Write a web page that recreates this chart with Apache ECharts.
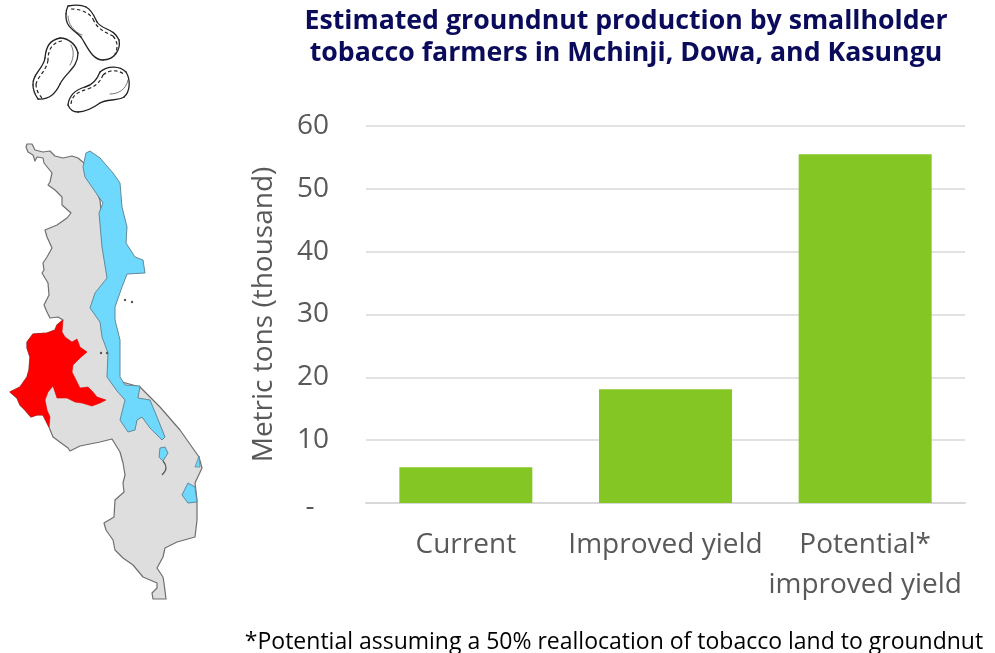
<!DOCTYPE html>
<html>
<head>
<meta charset="utf-8">
<style>html,body{margin:0;padding:0;background:#fff}#chart{width:995px;height:653px}</style>
<script src="https://cdn.jsdelivr.net/npm/echarts@6/dist/echarts.min.js"></script>
</head>
<body>
<div id="chart"></div>
<script>
// Chart data
const categories = ['Current', 'Improved yield', 'Potential*\nimproved yield'];
const production = [5.7, 18.1, 55.5];
const axisTicks = [0, 10, 20, 30, 40, 50, 60];
const chartTitle = 'Estimated groundnut production by smallholder\ntobacco farmers in Mchinji, Dowa, and Kasungu';
const axisTitle = 'Metric tons (thousand)';
const footnote = '*Potential assuming a 50% reallocation of tobacco land to groundnut';

// Outline of Malawi and the highlighted districts, in page pixels
const countryOutline = [[27,144],[32,144],[35,150],[43,152],[50,151],[55,156],[63,158],[72,156],[78,158],[84,163],[100,200],[110,300],[115,380],[140,387],[160,407],[180,430],[199,457],[202,468],[195,483],[197,500],[197,520],[195,537],[177,542],[165,548],[163,557],[157,568],[163,577],[164,583],[166,599],[153,599],[152,593],[157,588],[157,583],[143,577],[133,565],[123,558],[115,550],[113,540],[106,530],[104,523],[114,517],[115,500],[124,492],[123,483],[125,475],[123,463],[120,452],[112,439],[100,442],[80,446],[70,451],[68,448],[53,437],[49,427],[43,415],[37,415],[31,417],[25,410],[20,405],[17,398],[10,392],[20,387],[27,377],[29,370],[30,357],[27,348],[27,342],[33,334],[47,333],[55,330],[57,325],[63,320],[58,317],[50,318],[47,312],[44,305],[49,295],[48,283],[42,273],[44,270],[43,263],[47,257],[52,248],[47,237],[45,230],[57,225],[67,218],[71,213],[62,205],[62,197],[55,190],[48,185],[50,182],[52,173],[44,163],[43,158],[37,157],[35,161],[33,155],[28,152],[26,147]];
const districts = [[63,320],[62,332],[65,337],[72,342],[77,339],[80,347],[87,352],[80,358],[73,365],[72,372],[77,382],[80,388],[88,387],[93,392],[97,397],[106,400],[100,403],[92,406],[82,403],[75,402],[67,398],[57,398],[55,392],[53,386],[48,392],[45,400],[47,410],[50,417],[49,427],[43,415],[37,415],[31,417],[25,410],[20,405],[17,398],[10,392],[20,387],[27,377],[29,370],[30,357],[27,348],[27,342],[33,334],[47,333],[55,330],[57,325]];
const lakeMalawi = [[86,153],[90,151],[100,158],[113,173],[120,183],[122,207],[127,227],[126,243],[135,257],[143,260],[145,273],[127,274],[122,287],[115,307],[115,320],[120,340],[120,377],[125,385],[140,386],[138,398],[150,400],[157,417],[165,437],[162,440],[150,428],[142,417],[137,420],[135,430],[128,432],[120,420],[125,400],[117,391],[107,377],[108,353],[102,337],[100,322],[90,308],[95,293],[107,278],[102,247],[99,213],[103,203],[85,177],[83,167]];
const lakeMalombe = [[160,448],[165,447],[168,453],[163,461],[159,457]];
const lakeChiuta = [[199,456],[200,467],[195,467]];
const lakeChilwa = [[188,483],[195,487],[197,502],[188,503],[182,495],[185,489]];
const shireStream = [[163,461],[166,468],[162,475]];
const islands = [[125,300],[132,302],[101,353],[107,353]];

// Groundnut shells: start point followed by cubic segments [c1x,c1y,c2x,c2y,x,y]
const shells = [
  {start:[68,6], outer:[[74,5,82,5,86,7],[92,10,94,16,97,22],[102,30,114,28,119,40],[121,50,114,60,103,60],[92,60,87,46,81,37],[75,30,65,28,66,14],[66,10,67,8,68,6]],
   innerStart:[71,9], inner:[[78,9,88,11,93,19],[97,29,105,32,113,36],[118,42,118,48,115,54]],
   shineStart:[68,16], shine:[[68,24,74,32,82,35]]},
  {start:[38,99], outer:[[48,100,55,95,60,84],[66,72,78,68,78,53],[76,44,68,38,60,38],[50,40,46,46,45,58],[44,68,32,74,33,85],[33,92,36,96,38,99]],
   innerStart:[62,41], inner:[[54,42,48,48,48,60],[47,70,38,76,36,84],[36,90,39,95,42,98]],
   shineStart:[71,45], shine:[[75,52,73,60,70,65]]},
  {start:[68,105], outer:[[69,95,75,90,85,87],[93,85,97,80,100,72],[108,65,120,66,126,72],[131,80,130,92,124,97],[118,101,106,99,100,103],[93,108,86,112,78,112],[73,112,70,110,68,105]],
   innerStart:[71,104], inner:[[72,95,78,92,88,89],[96,86,100,82,103,75],[110,69,118,70,124,74]],
   shineStart:[110,94], shine:[[118,94,126,90,128,80]]}
];

const curveEls = (start, segments, style) => {
  let [x1, y1] = start;
  return segments.map(([cpx1, cpy1, cpx2, cpy2, x2, y2]) => {
    const el = {type: 'bezierCurve', silent: true,
      shape: {x1, y1, cpx1, cpy1, cpx2, cpy2, x2, y2},
      style: {fill: null, lineCap: 'round', ...style}};
    x1 = x2; y1 = y2;
    return el;
  });
};

const polygonEl = (points, fill, stroke, width) => ({
  type: 'polygon', silent: true,
  shape: {points},
  style: {fill, stroke, lineWidth: width, lineJoin: 'round'}
});

const mapElements = [
  polygonEl(countryOutline, '#dedede', '#6f6f6f', 1.2),
  polygonEl(districts, '#fe0000', '#e60000', 0.6),
  polygonEl(lakeMalawi, '#6fd8fd', '#5f8a9a', 1),
  polygonEl(lakeMalombe, '#6fd8fd', '#5f8a9a', 1),
  polygonEl(lakeChiuta, '#6fd8fd', '#5f8a9a', 0.8),
  polygonEl(lakeChilwa, '#6fd8fd', '#5f8a9a', 1),
  {type: 'polyline', silent: true, shape: {points: shireStream, smooth: 0.5},
   style: {stroke: '#555', lineWidth: 1.2, fill: null}},
  ...islands.map(([x, y]) => ({type: 'circle', silent: true, shape: {cx: x, cy: y, r: 1.2},
    style: {fill: '#555'}}))
];

const shellElements = shells.flatMap(s => [
  ...curveEls(s.start, s.outer, {stroke: '#222', lineWidth: 1.3}),
  ...curveEls(s.innerStart, s.inner, {stroke: '#222', lineWidth: 1.2, lineCap: 'butt', lineDash: [3.5, 2.5]}),
  ...curveEls(s.shineStart, s.shine, {stroke: '#555', lineWidth: 0.8})
]);

const chart = echarts.init(document.getElementById('chart'), null, {renderer: 'canvas'});
chart.setOption({
  animation: false,
  backgroundColor: '#fff',
  textStyle: {fontFamily: '"Open Sans"'},
  title: {
    text: chartTitle,
    left: 621, top: 0, textAlign: 'center',
    textStyle: {fontFamily: '"Open Sans"', fontSize: 26.7, fontWeight: 'bold', color: '#0b0b5c', lineHeight: 32}
  },
  grid: {left: 366, right: 30, top: 126, bottom: 150},
  xAxis: {
    type: 'category',
    data: categories,
    axisLine: {lineStyle: {color: '#d9d9d9', width: 2}},
    axisTick: {show: false},
    axisLabel: {color: '#595959', fontSize: 28, lineHeight: 40, margin: 22, interval: 0}
  },
  yAxis: {
    type: 'value',
    min: axisTicks[0],
    max: axisTicks[axisTicks.length - 1],
    interval: 10,
    name: axisTitle,
    nameLocation: 'middle',
    nameGap: 88,
    nameTextStyle: {color: '#595959', fontSize: 28},
    axisLine: {show: false},
    axisTick: {show: false},
    splitLine: {lineStyle: {color: '#d9d9d9', width: 1.5}},
    axisLabel: {
      color: '#595959', fontSize: 28, margin: 37,
      formatter: v => v === 0 ? '{dash|-  }' : String(v),
      rich: {dash: {color: '#595959', fontSize: 28, padding: [8, 0, 0, 0]}}
    }
  },
  series: [{
    type: 'bar',
    data: production,
    barWidth: '66.6%',
    itemStyle: {color: '#84c724'}
  }],
  graphic: {
    elements: [
      ...shellElements,
      ...mapElements,
      {type: 'text', silent: true, x: 614, y: 642,
       style: {text: footnote, fontFamily: '"Open Sans"', fontSize: 23, fill: '#000',
               align: 'center', verticalAlign: 'middle'}}
    ]
  }
});
</script>
</body>
</html>
